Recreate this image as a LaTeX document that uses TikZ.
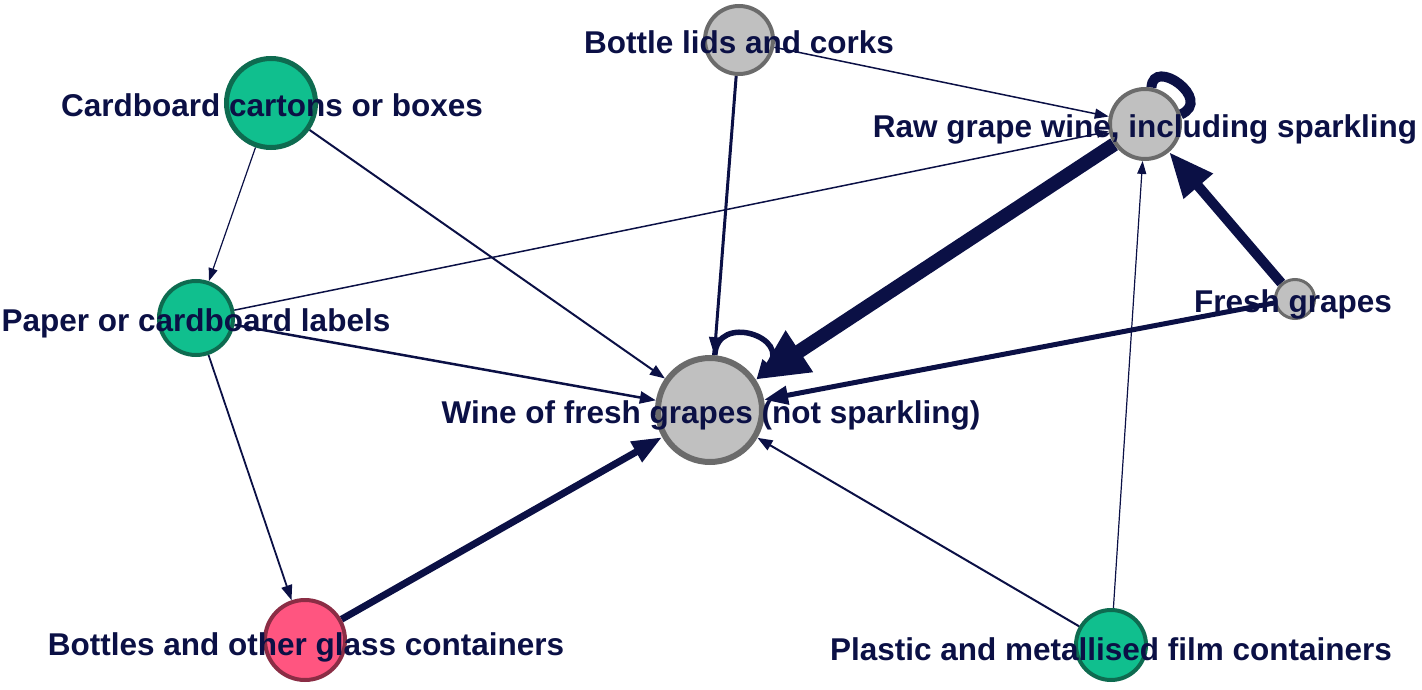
\documentclass[tikz,border=0pt]{standalone}
\usepackage{fontspec}
\setmainfont{Liberation Sans}
\usetikzlibrary{arrows.meta,backgrounds}
\definecolor{navy}{HTML}{0B1045}
\definecolor{greyfill}{HTML}{C0C0C0}
\definecolor{greyline}{HTML}{6B6B6B}
\definecolor{greenfill}{HTML}{10BF8E}
\definecolor{greenline}{HTML}{0E6B50}
\definecolor{pinkfill}{HTML}{FF5580}
\definecolor{pinkline}{HTML}{8B2D45}
\begin{document}
\begin{tikzpicture}[x=1pt,y=-1pt,
  nd/.style={circle,inner sep=0pt},
  gr/.style={nd,fill=greyfill,draw=greyline},
  gn/.style={nd,fill=greenfill,draw=greenline},
  pk/.style={nd,fill=pinkfill,draw=pinkline},
  lbl/.style={font=\fontsize{31.5}{36}\selectfont\bfseries,text=navy,inner sep=0pt},
  ed/.style={draw=navy},
  tp/.style 2 args={-{Triangle[length=#1,width=#2]}},
]
\useasboundingbox (0,0) rectangle (1422,690);
% nodes
\node[gr,minimum size=68pt,line width=4pt] (lids) at (739,40) {};
\node[gn,minimum size=89pt,line width=5pt] (card) at (271,103) {};
\node[gr,minimum size=70pt,line width=4pt] (raw) at (1145,124) {};
\node[gn,minimum size=74pt,line width=4pt] (paper) at (196,318) {};
\node[gr,minimum size=39pt,line width=3pt] (fresh) at (1295,299) {};
\node[gr,minimum size=104pt,line width=6pt] (wine) at (710,410) {};
\node[pk,minimum size=80pt,line width=4pt] (bottles) at (305,640) {};
\node[gn,minimum size=70pt,line width=4pt] (plastic) at (1111,645) {};
% labels
\node[lbl] (llids) at (739,42) {Bottle lids and corks};
\node[lbl] (lcard) at (272,105) {Cardboard cartons or boxes};
\node[lbl] (lraw) at (1145,129) {Raw grape wine, including sparkling};
\node[lbl] (lpaper) at (196,323) {Paper or cardboard labels};
\node[lbl] (lfresh) at (1293,304) {Fresh grapes};
\node[lbl] (lwine) at (711,415) {Wine of fresh grapes (not sparkling)};
\node[lbl] (lbottles) at (306,647) {Bottles and other glass containers};
\node[lbl] (lplastic) at (1111,649) {Plastic and metallised film containers};
% edges
\begin{scope}[on background layer]
\draw[ed,line width=3pt,tp={18pt}{13pt}] (lids) -- (wine);
\draw[ed,line width=1.5pt,tp={14pt}{10pt}] (lids) -- (raw);
\draw[ed,line width=1.2pt,tp={13pt}{9pt}] (card) -- (paper);
\draw[ed,line width=2pt,tp={15pt}{11pt}] (card) -- (wine);
\draw[ed,line width=1.5pt,tp={12pt}{8pt}] (paper) -- (raw);
\draw[ed,line width=2.5pt,tp={16pt}{12pt}] (paper) -- (wine);
\draw[ed,line width=1.8pt,tp={15pt}{11pt}] (paper) -- (bottles);
\draw[ed,line width=7pt,tp={30pt}{22pt}] (bottles) -- (wine);
\draw[ed,line width=14pt,tp={52pt}{46pt}] (raw) -- (wine);
\draw[ed,line width=10pt,tp={45pt}{36pt}] (fresh) -- (raw);
\draw[ed,line width=5pt,tp={24pt}{18pt}] (fresh) -- (wine);
\draw[ed,line width=2pt,tp={15pt}{11pt}] (plastic) -- (wine);
\draw[ed,line width=1.2pt,tp={13pt}{9pt}] (plastic) -- (raw);
\draw[ed,line width=5.5pt,tp={20pt}{16pt}] (wine.85) .. controls (717,312) and (792,338) .. (wine.33);
\draw[ed,line width=10pt] (raw.80) .. controls (1153,56) and (1214,100) .. (raw.15);
\end{scope}
\end{tikzpicture}
\end{document}
